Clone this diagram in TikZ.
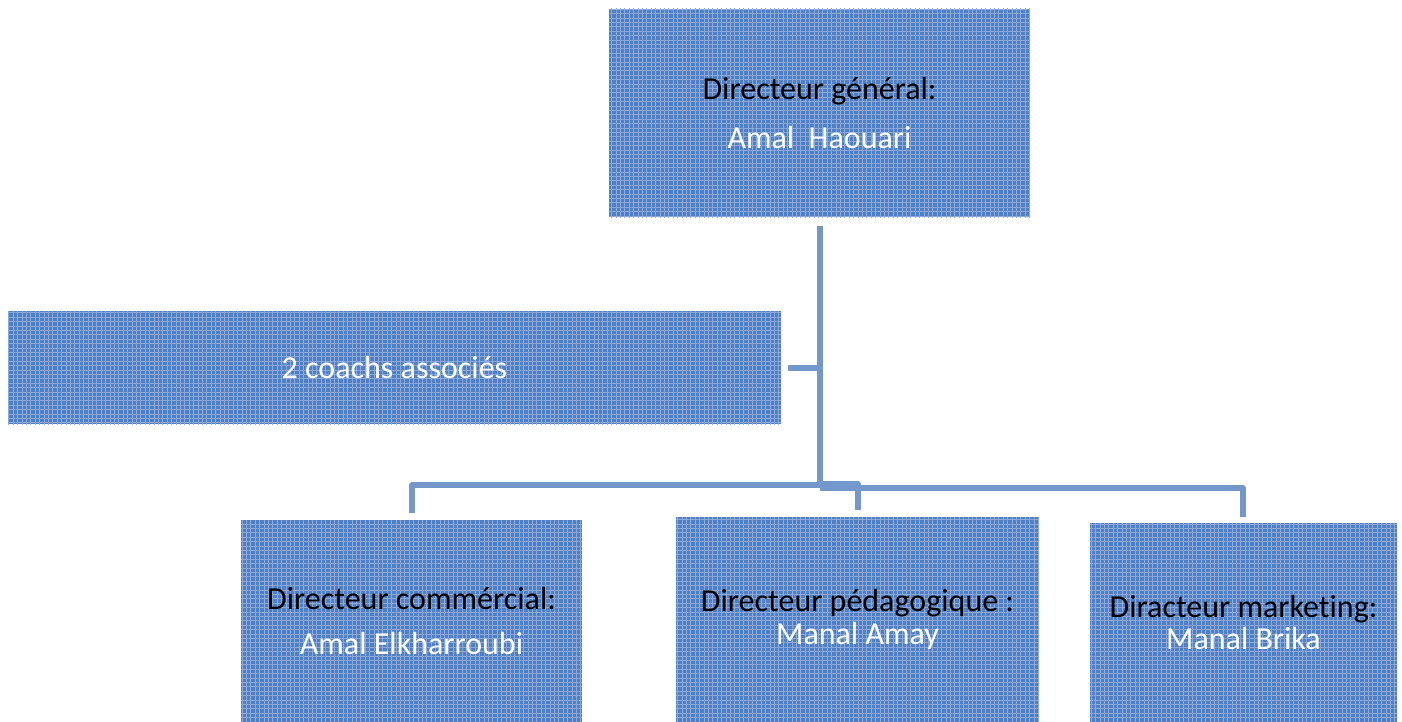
\documentclass[tikz,border=0pt]{standalone}
\usepackage{fontspec}
\setmainfont[Ligatures=NoCommon]{Carlito}
\usetikzlibrary{patterns.meta}
\definecolor{boxblue}{HTML}{5080C4}
\definecolor{gridblue}{HTML}{8BA9DA}
\definecolor{linkblue}{HTML}{7397CB}
\tikzset{
  orgbox/.style={rectangle, inner sep=0pt, fill=boxblue,
    postaction={pattern={Lines[distance=2.2pt, line width=0.45pt, angle=0]}, pattern color=gridblue},
    postaction={pattern={Lines[distance=2.2pt, line width=0.45pt, angle=90]}, pattern color=gridblue},
    text=white, align=center, font=\fontsize{16}{19}\selectfont},
  link/.style={draw=linkblue, line width=2.6pt, line join=round, line cap=butt}
}
\begin{document}
\begin{tikzpicture}[x=0.5pt, y=-0.5pt]
\useasboundingbox (0,0) rectangle (1402,722);
% boxes
\node[orgbox, minimum width=210.5pt, minimum height=104pt] (dg) at (819.5,113)
  {{\color{black}Directeur général:}\\[5.5pt]Amal~~Haouari};
\node[orgbox, minimum width=386.5pt, minimum height=56.5pt] (coach) at (394.5,367.5)
  {2 coachs associés};
\node[orgbox, minimum width=170.5pt, minimum height=101pt] (dc) at (411.5,621)
  {{\color{black}Directeur commércial:}\\[3.5pt]Amal Elkharroubi};
\node[orgbox, minimum width=181.5pt, minimum height=102.5pt] (dp) at (857.5,619.5)
  {{\color{black}Directeur pédagogique :}\\[-2.5pt]Manal Amay};
\node[orgbox, minimum width=153.5pt, minimum height=99.5pt] (dm) at (1243.5,622.5)
  {{\color{black}Diracteur marketing:}\\[-2.5pt]Manal Brika};
% connector points
\coordinate (trunkTop) at (820,226);
\coordinate (trunkBot) at (820,487);
\coordinate (coachEnd) at (788,368);
\coordinate (coachJ) at (820,368);
\coordinate (dcTop) at (412,513);
\coordinate (dpTop) at (858,510);
\coordinate (dmTop) at (1243,517);
% connectors
\draw[link] (trunkTop) -- (trunkBot);
\draw[link] (coachEnd) -- (coachJ);
\draw[link] (dcTop) -- (dcTop |- 0,485) -- (820,485);
\draw[link] (820,484) -- (dpTop |- 0,484) -- (dpTop);
\draw[link] (820,488) -- (dmTop |- 0,488) -- (dmTop);
\end{tikzpicture}
\end{document}
